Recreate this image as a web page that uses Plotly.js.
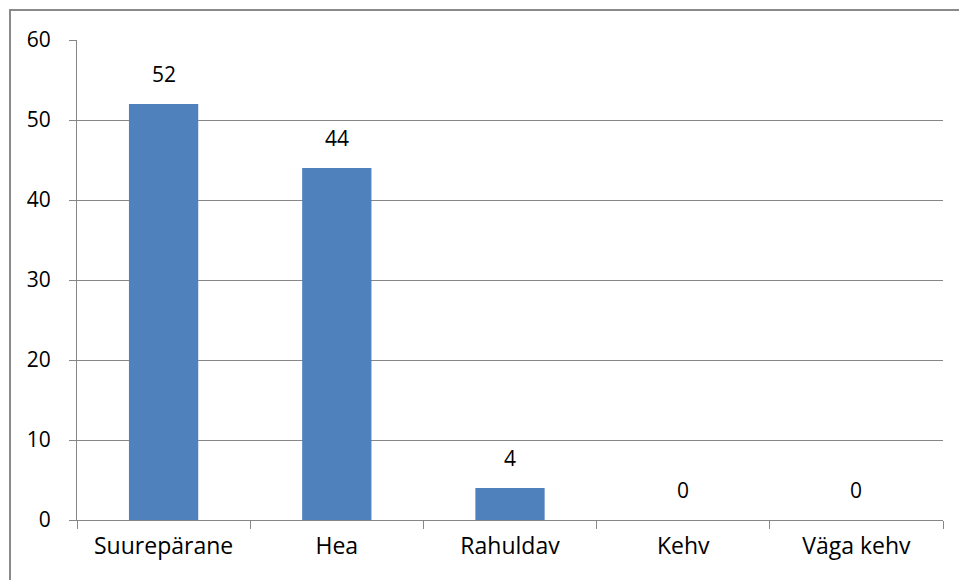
<!DOCTYPE html>
<html><head><meta charset="utf-8">
<script src="https://cdn.plot.ly/plotly-3.0.1.min.js"></script>
<style>
html,body{margin:0;padding:0;background:#fff;overflow:hidden;}
#chart{width:959px;height:580px;position:absolute;left:0;top:0;}
#frame{position:absolute;left:9px;top:9px;width:980px;height:600px;border:2px solid #8a8a8a;box-sizing:border-box;pointer-events:none;}
</style></head>
<body>
<div id="chart"></div>
<div id="frame"></div>
<script>
const categories = ["Suurepärane", "Hea", "Rahuldav", "Kehv", "Väga kehv"];
const values = [52, 44, 4, 0, 0];
const yTicks = [0, 10, 20, 30, 40, 50, 60];

const font = {family: "'Open Sans', Lato, sans-serif", size: 21, color: "#000"};
const catFont = {family: "'Open Sans', Lato, sans-serif", size: 23, color: "#000"};

const trace = {
  type: "bar",
  x: categories,
  y: values,
  marker: {color: "#4F81BD", line: {width: 0}},
  width: 0.4,
  hoverinfo: "none"
};

const annotations = categories.map((c, i) => ({
  x: c, y: values[i], text: String(values[i]),
  showarrow: false, yanchor: "bottom", yshift: 14,
  font: font
}));

const layout = {
  width: 959, height: 580,
  margin: {l: 77, r: 16, t: 40, b: 60},
  paper_bgcolor: "#fff", plot_bgcolor: "#fff",
  font: font,
  showlegend: false,
  bargap: 0.6,
  xaxis: {
    type: "category",
    showline: true, linecolor: "#868686", linewidth: 1,
    ticks: "outside", tickson: "boundaries", ticklen: 8, tickcolor: "#868686",
    showgrid: false, zeroline: false,
    ticklabelstandoff: 5,
    tickfont: catFont
  },
  yaxis: {
    range: [0, 60],
    tickvals: yTicks,
    showline: true, linecolor: "#868686", linewidth: 1,
    ticks: "outside", ticklen: 7, tickcolor: "#868686",
    showgrid: true, gridcolor: "#868686", gridwidth: 1,
    zeroline: false,
    ticklabelstandoff: 14,
    tickfont: font
  },
  annotations: annotations
};

Plotly.newPlot("chart", [trace], layout, {displayModeBar: false, staticPlot: true});
</script>
</body></html>
